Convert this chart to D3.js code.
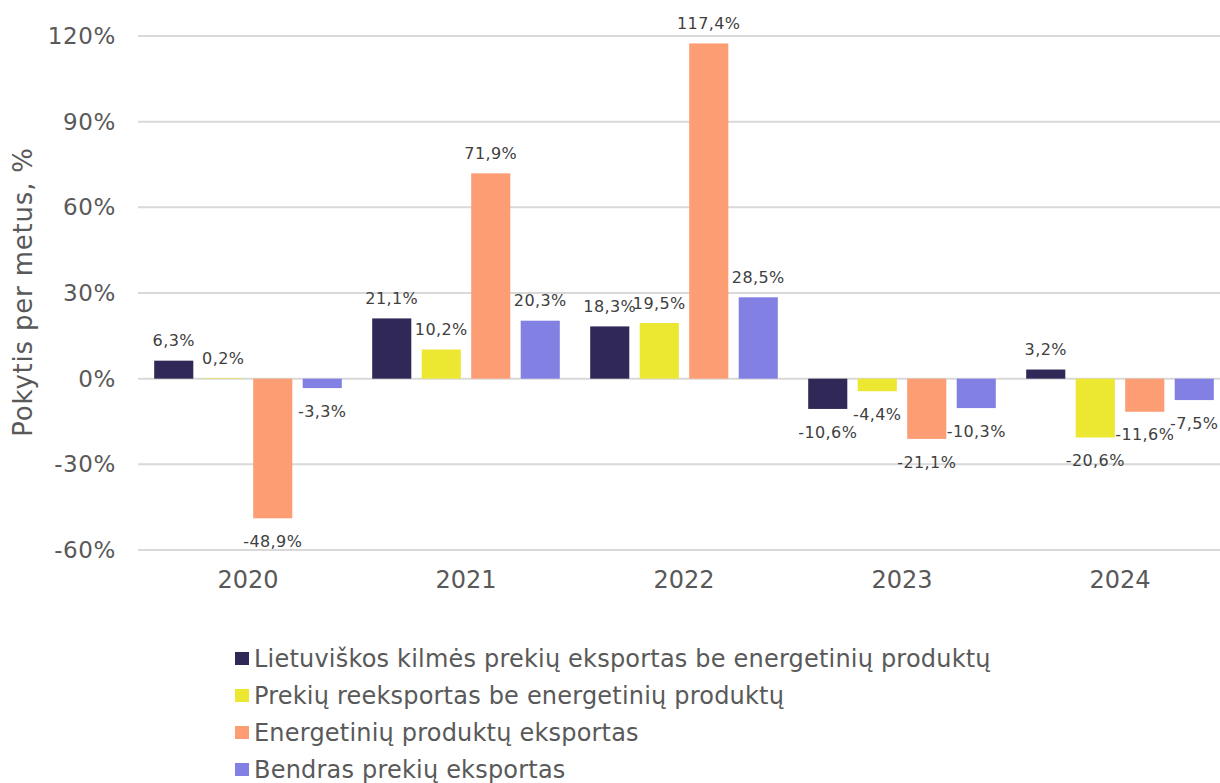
<!DOCTYPE html>
<html>
<head>
<meta charset="utf-8">
<script src="https://cdn.jsdelivr.net/npm/d3@7"></script>
<style>
  body { margin: 0; background: #fff; }
  svg text { font-family: Verdana, "DejaVu Sans", sans-serif; }
</style>
</head>
<body>
<div id="chart"></div>
<script>
var years = ["2020", "2021", "2022", "2023", "2024"];
var seriesNames = [
    "Lietuviškos kilmės prekių eksportas be energetinių produktų",
    "Prekių reeksportas be energetinių produktų",
    "Energetinių produktų eksportas",
    "Bendras prekių eksportas"
];
var lietuviskos = [6.3, 21.1, 18.3, -10.6, 3.2];
var reeksportas = [0.2, 10.2, 19.5, -4.4, -20.6];
var energetiniai = [-48.9, 71.9, 117.4, -21.1, -11.6];
var bendras = [-3.3, 20.3, 28.5, -10.3, -7.5];
var yTicks = [-60, -30, 0, 30, 60, 90, 120];

var colors = ["#302856", "#ece730", "#fc9d74", "#8380e3"];
var seriesValues = [lietuviskos, reeksportas, energetiniai, bendras];

var width = 1220, height = 783;
var svg = d3.select("#chart").append("svg")
    .attr("width", width)
    .attr("height", height);

var x = d3.scaleBand()
    .domain(years)
    .range([139, 1229]);

var xInner = d3.scaleBand()
    .domain(d3.range(seriesNames.length))
    .range([0, x.bandwidth()])
    .paddingInner(0.21)
    .paddingOuter(0.307);

var y = d3.scaleLinear()
    .domain([-60, 120])
    .range([550, 36]);

var fmt = function(v) { return v.toFixed(1).replace(".", ",") + "%"; };

// gridlines
svg.append("g").attr("class", "grid")
    .selectAll("line")
    .data(yTicks)
    .enter().append("line")
    .attr("x1", 138)
    .attr("x2", 1220)
    .attr("y1", function(d) { return y(d); })
    .attr("y2", function(d) { return y(d); })
    .style("stroke", "#d9d9d9")
    .style("stroke-width", 2);

// y axis
var yAxis = svg.append("g")
    .attr("transform", "translate(124,0)")
    .call(d3.axisLeft(y).tickValues(yTicks).tickSize(0).tickPadding(8)
        .tickFormat(function(d) { return d + "%"; }));
yAxis.select(".domain").remove();
yAxis.selectAll("text")
    .style("font-family", "Verdana, 'DejaVu Sans', sans-serif")
    .style("font-size", "23px")
    .style("letter-spacing", "0.6px")
    .style("fill", "#595959");

svg.append("text")
    .attr("transform", "translate(32,292) rotate(-90)")
    .style("text-anchor", "middle")
    .style("font-size", "26px")
    .style("letter-spacing", "0.8px")
    .style("fill", "#595959")
    .text("Pokytis per metus, %");

// x axis
var xAxis = svg.append("g")
    .attr("transform", "translate(0,566)")
    .call(d3.axisBottom(x).tickSize(0).tickPadding(5));
xAxis.select(".domain").remove();
xAxis.selectAll("text")
    .style("font-family", "Verdana, 'DejaVu Sans', sans-serif")
    .style("font-size", "24px")
    .style("fill", "#595959");

// bars
var rows = [];
seriesValues.forEach(function(vals, si) {
    vals.forEach(function(v, i) {
        rows.push({year: years[i], s: si, v: v});
    });
});

var groups = svg.selectAll(".bar")
    .data(rows)
    .enter().append("g")
    .attr("class", "bar");

groups.append("rect")
    .attr("x", function(d) { return x(d.year) + xInner(d.s); })
    .attr("width", xInner.bandwidth())
    .attr("y", function(d) { return y(Math.max(0, d.v)); })
    .attr("height", function(d) { return Math.abs(y(d.v) - y(0)); })
    .style("fill", function(d) { return colors[d.s]; });

groups.append("text")
    .attr("x", function(d) { return x(d.year) + xInner(d.s) + xInner.bandwidth() / 2; })
    .attr("y", function(d) { return d.v >= 0 ? y(d.v) - 20 : y(d.v) + 23; })
    .attr("dy", "0.35em")
    .style("text-anchor", "middle")
    .style("font-size", "16px")
    .style("letter-spacing", "0.4px")
    .style("fill", "#404040")
    .text(function(d) { return fmt(d.v); });

// legend
var legend = svg.selectAll(".legend")
    .data(seriesNames)
    .enter().append("g")
    .attr("class", "legend")
    .attr("transform", function(d, i) { return "translate(235," + (659 + i * 37) + ")"; });

legend.append("rect")
    .attr("x", 0)
    .attr("y", -7)
    .attr("width", 14)
    .attr("height", 13)
    .style("fill", function(d, i) { return colors[i]; });

legend.append("text")
    .attr("x", 19)
    .attr("y", 0)
    .attr("dy", "0.35em")
    .style("font-size", "24px")
    .style("letter-spacing", "0.2px")
    .style("fill", "#595959")
    .text(function(d) { return d; });
</script>
</body>
</html>
